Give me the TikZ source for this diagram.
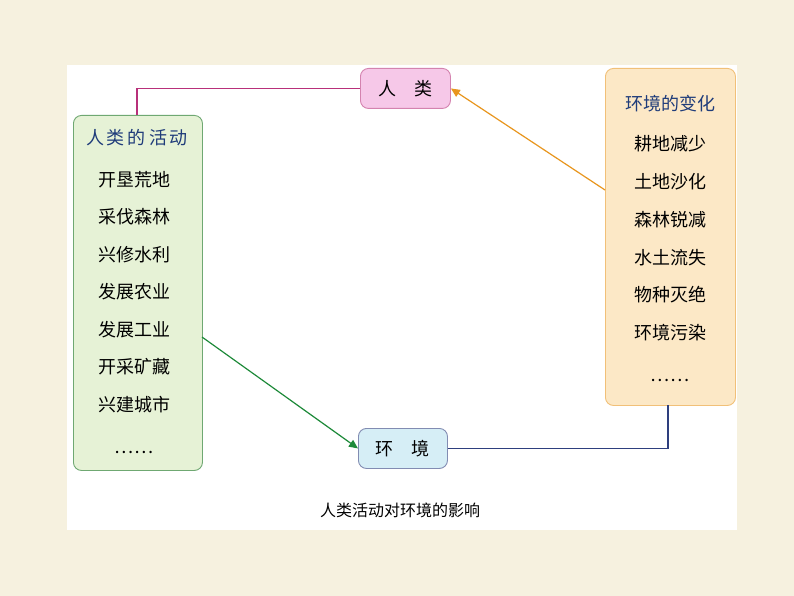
\documentclass[tikz,border=0pt]{standalone}
\usepackage{fontspec}
\setmainfont{Noto Sans CJK SC}
\usetikzlibrary{arrows.meta}
\definecolor{bg}{HTML}{F6F1DF}
\definecolor{pinkf}{HTML}{F6C8E8}
\definecolor{pinkd}{HTML}{B8307A}
\definecolor{greenf}{HTML}{E6F2D6}
\definecolor{greend}{HTML}{6FA872}
\definecolor{orangef}{HTML}{FCE8C6}
\definecolor{oranged}{HTML}{E8961E}
\definecolor{bluef}{HTML}{D6EEF6}
\definecolor{blued}{HTML}{2E3F7E}
\definecolor{titleb}{HTML}{1F3C7A}
\definecolor{arrowg}{HTML}{1E8A3A}
\begin{document}
\begin{tikzpicture}[x=1pt,y=-1pt,
  box/.style={draw, line width=0.9pt, rounded corners=8pt, inner sep=0pt, anchor=north west},
  txt/.style={font=\fontsize{18}{18}\selectfont}]
\useasboundingbox (0,0) rectangle (794,596);
\fill[bg] (0,0) rectangle (794,596);
\fill[white] (67,65) rectangle (737,530);
\node[box, fill=pinkf, draw=pinkd!60, minimum width=90pt, minimum height=40pt, txt] (ren) at (360,68) {人\hspace{1em}类};
\node[box, fill=bluef, draw=blued!60, minimum width=89pt, minimum height=40pt, txt] (hj) at (358,428) {环\hspace{1em}境};
\node[box, fill=greenf, draw=greend, minimum width=129pt, minimum height=355pt] (left) at (73,115) {};
\node[box, fill=orangef, draw=oranged!60, minimum width=130pt, minimum height=337pt] (right) at (605,68) {};
\node[txt, text=titleb] (lt) at (137,138) {人\,类\,的\,活\,动};
\foreach \t [count=\i] in {开垦荒地,采伐森林,兴修水利,发展农业,发展工业,开采矿藏,兴建城市}
  \node[txt] (l\i) at (134,142+37.5*\i) {\t};
\node[txt] (ldots) at (134,452) {……};
\node[txt, text=titleb] (rt) at (670,104) {环境的变化};
\foreach \t [count=\i] in {耕地减少,土地沙化,森林锐减,水土流失,物种灭绝,环境污染}
  \node[txt] (r\i) at (670,106+37.8*\i) {\t};
\node[txt] (rdots) at (670,380) {……};
\node[font=\fontsize{16}{16}\selectfont] (cap) at (400,510) {人类活动对环境的影响};
\draw[pinkd, line width=1.2pt] (137,115) |- (ren.west);
\draw[oranged, line width=1.2pt, -{Triangle[length=9pt,width=8pt]}] (605,190) -- (ren.east);
\draw[arrowg, line width=1.2pt, -{Triangle[length=9pt,width=8pt]}] (202,337) -- (hj.west);
\draw[blued, line width=1.2pt] (hj.east) -| (668,405);
\end{tikzpicture}
\end{document}
